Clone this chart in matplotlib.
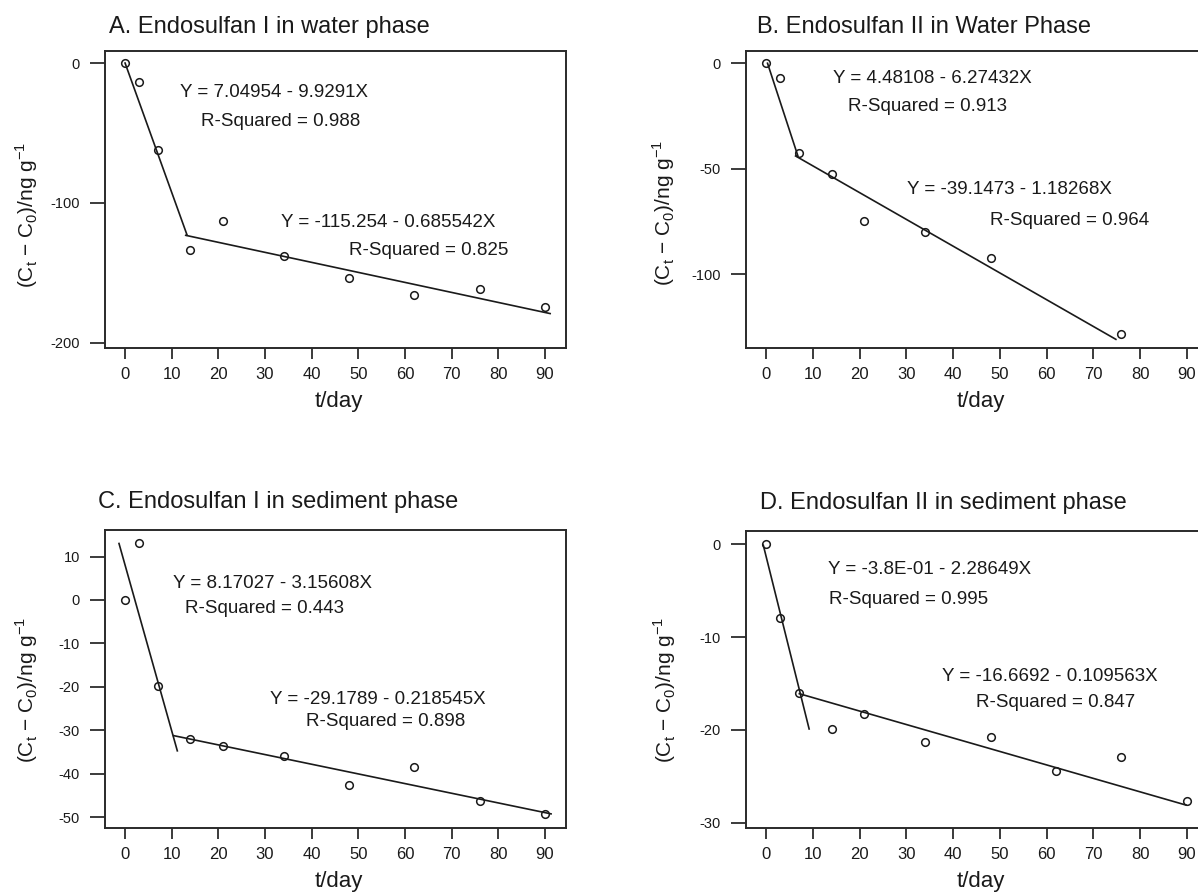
import matplotlib
matplotlib.use('Agg')
import matplotlib.pyplot as plt

plt.rcParams['font.family'] = ['Liberation Sans', 'DejaVu Sans']
plt.rcParams['mathtext.fontset'] = 'custom'
plt.rcParams['mathtext.rm'] = 'Liberation Sans'
plt.rcParams['axes.unicode_minus'] = False

# sampling days and (Ct - C0) values
days_a = [0, 3, 7, 14, 21, 34, 48, 62, 76, 90]
vals_a = [0, -13.6, -62.4, -133.8, -113.1, -138.1, -153.6, -166.0, -161.7, -174.0]
days_b = [0, 3, 7, 14, 21, 34, 48, 76]
vals_b = [0, -6.8, -42.7, -52.4, -75.0, -79.9, -92.2, -128.6]
days_c = [0, 3, 7, 14, 21, 34, 48, 62, 76, 90]
vals_c = [0, 13.1, -19.9, -31.9, -33.5, -35.8, -42.6, -38.5, -46.2, -49.2]
days_d = [0, 3, 7, 14, 21, 34, 48, 62, 76, 90]
vals_d = [0, -7.9, -16.0, -19.9, -18.3, -21.3, -20.8, -24.4, -22.9, -27.7]

# fitted segments (end points as drawn)
fit_a = [([0.0, 13.3], [0.0, -123.0]), ([13.0, 91.1], [-123.1, -179.0])]
fit_b = [([0.3, 6.8], [0.0, -44.0]), ([6.3, 74.8], [-44.0, -131.0])]
fit_c = [([-1.3, 11.2], [13.0, -34.7]), ([10.4, 91.3], [-31.2, -49.2])]
fit_d = [([-0.6, 9.2], [-0.1, -19.9]), ([7.1, 89.8], [-16.1, -28.1])]

titles = ['A. Endosulfan I in water phase', 'B. Endosulfan II in Water Phase',
          'C. Endosulfan I in sediment phase', 'D. Endosulfan II in sediment phase']

eq_a = [('Y = 7.04954 - 9.9291X', 31.9, -21), ('R-Squared = 0.988', 33.4, -41.7),
        ('Y = -115.254 - 0.685542X', 56.4, -113.8), ('R-Squared = 0.825', 65.0, -133.8)]
eq_b = [('Y = 4.48108 - 6.27432X', 35.6, -7.1), ('R-Squared = 0.913', 34.5, -20.3),
        ('Y = -39.1473 - 1.18268X', 52.0, -60.1), ('R-Squared = 0.964', 64.8, -74.4)]
eq_c = [('Y = 8.17027 - 3.15608X', 31.7, 3.75), ('R-Squared = 0.443', 29.9, -1.9),
        ('Y = -29.1789 - 0.218545X', 54.1, -22.8), ('R-Squared = 0.898', 55.9, -28.0)]
eq_d = [('Y = -3.8E-01 - 2.28649X', 35.0, -2.7), ('R-Squared = 0.995', 30.4, -5.9),
        ('Y = -16.6692 - 0.109563X', 60.7, -14.3), ('R-Squared = 0.847', 62.0, -17.1)]

yticks = [[0, -100, -200], [0, -50, -100], [10, 0, -10, -20, -30, -40, -50], [0, -10, -20, -30]]
ylims = [(-203.6, 8.6), (-135.1, 5.8), (-52.45, 16.1), (-30.57, 1.43)]
xticks = [0, 10, 20, 30, 40, 50, 60, 70, 80, 90]

W, H = 1198, 893
fig = plt.figure(figsize=(W / 100, H / 100), dpi=100)

def px(x, y):
    return x / W, 1 - y / H

# left, top, right, bottom in pixels
boxes = [(105, 51, 566, 348), (746, 51, 1208, 348), (105, 530, 566, 828), (746, 531, 1208, 828)]
title_pos = [(109, 33), (757, 33), (98, 508), (760, 509)]
xlab_pos = [(339, 402), (981, 402), (339, 882), (981, 882)]
ylab_pos = [(27, 215), (664, 213), (27, 690), (665, 690)]

panels = [(days_a, vals_a, fit_a, eq_a), (days_b, vals_b, fit_b, eq_b),
          (days_c, vals_c, fit_c, eq_c), (days_d, vals_d, fit_d, eq_d)]
ink = '#1a1a1a'

for i, (days, vals, fits, eqs) in enumerate(panels):
    l, t, r, b = boxes[i]
    ax = fig.add_axes([l / W, 1 - b / H, (r - l) / W, (b - t) / H])
    ax.plot(days, vals, 'o', mfc='none', mec=ink, ms=5.5, mew=1.1)
    for fx, fy in fits:
        ax.plot(fx, fy, color=ink, lw=1.2)
    for s, x, y in eqs:
        ax.text(x, y, s, ha='center', va='center', fontsize=13.5, color=ink)
    ax.set_xlim(-4.3, 94.5)
    ax.set_ylim(*ylims[i])
    ax.set_xticks(xticks)
    ax.set_yticks(yticks[i])
    ax.set_yticklabels([str(v) for v in yticks[i]])
    ax.tick_params(axis='x', direction='out', length=8, width=1.2, pad=6, labelsize=12, colors=ink)
    ax.tick_params(axis='y', direction='out', length=11, width=1.2, pad=7, labelsize=10.5, colors=ink)
    for sp in ax.spines.values():
        sp.set_linewidth(1.4)
        sp.set_color('#2a2a2a')

    x, y = px(*title_pos[i])
    fig.text(x, y, titles[i], fontsize=17, color=ink, ha='left', va='baseline')
    x, y = px(*xlab_pos[i])
    fig.text(x, y, 't/day', fontsize=16, color=ink, ha='center', va='center')
    x, y = px(*ylab_pos[i])
    fig.text(x, y, r'(C$_\mathregular{t}$ $-$ C$_\mathregular{0}$)/ng g$^\mathregular{-1}$',
             fontsize=15, color=ink, ha='center', va='center', rotation=90)

fig.savefig('out.png', dpi=100, facecolor='white')
